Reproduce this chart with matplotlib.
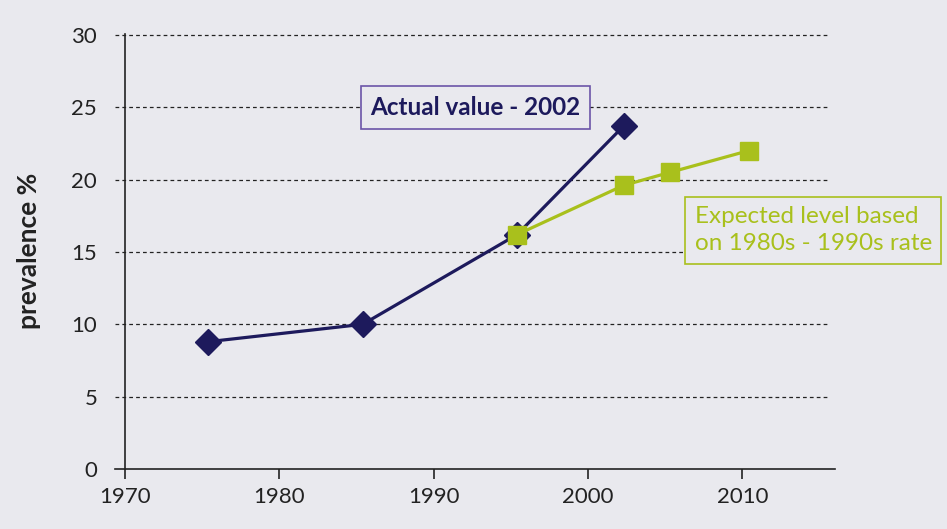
import matplotlib
matplotlib.use('Agg')
import matplotlib.pyplot as plt

# значения
actual_years = [1975.4, 1985.4, 1995.4, 2002.3]
actual_vals = [8.8, 10.0, 16.2, 23.7]
expected_years = [1995.4, 2002.3, 2005.3, 2010.4]
expected_vals = [16.2, 19.6, 20.5, 22.0]
x_ticks = [1970, 1980, 1990, 2000, 2010]
y_ticks = [0, 5, 10, 15, 20, 25, 30]

bg = '#e9e9ee'
navy = '#1d1a5c'
green = '#a9c01c'

plt.rcParams['font.family'] = ['Lato', 'DejaVu Sans']

fig = plt.figure(figsize=(9.47, 5.29), dpi=100, facecolor=bg)
ax = fig.add_axes([0.1214, 0.1134, 0.7603, 0.826])
ax.set_facecolor(bg)

ax.set_xlim(1969.35, 2016.0)
ax.set_ylim(0, 30.2)

# пунктирная сетка
for v in y_ticks[1:]:
    ax.hlines(v, 1969.35, 2015.5, colors='#222222', linestyles=(0, (3, 2.5)), linewidth=0.9, zorder=1)

ax.plot(actual_years, actual_vals, color=navy, linewidth=2.3, marker='D', markersize=13.5,
        markerfacecolor=navy, markeredgecolor=navy, zorder=3)
ax.plot(expected_years, expected_vals, color=green, linewidth=2.3, marker='s', markersize=13.5,
        markerfacecolor=green, markeredgecolor=green, zorder=4)

for s in ['top', 'right']:
    ax.spines[s].set_visible(False)
ax.spines['left'].set_position(('data', 1970))
ax.spines['left'].set_bounds(0, 30.1)
for s in ['left', 'bottom']:
    ax.spines[s].set_linewidth(1.2)
    ax.spines[s].set_color('#222222')

ax.set_xticks(x_ticks)
ax.set_xticklabels([str(t) for t in x_ticks], fontsize=16, color='#222222')
ax.set_yticks(y_ticks)
ax.set_yticklabels([str(t) for t in y_ticks], fontsize=16, color='#222222')
ax.tick_params(axis='x', direction='out', length=7, width=1.2, pad=6, colors='#222222')
ax.tick_params(axis='y', length=0, pad=20, colors='#222222')

ax.set_ylabel('prevalence %', fontsize=19, fontweight='bold', color='#222222', labelpad=22)

ax.text(1985.9, 25.0, 'Actual value - 2002', fontsize=17.5, fontweight='bold', color=navy,
        ha='left', va='center',
        bbox=dict(boxstyle='square,pad=0.4', facecolor=bg, edgecolor='#6b55a8', linewidth=1.2),
        zorder=5)
ax.text(2006.9, 16.5, 'Expected level based\non 1980s - 1990s rate', fontsize=17.5, color=green,
        ha='left', va='center', linespacing=1.35,
        bbox=dict(boxstyle='square,pad=0.4', facecolor=bg, edgecolor=green, linewidth=1.2),
        zorder=5, clip_on=False)

fig.savefig('out.png', dpi=100, facecolor=bg)
